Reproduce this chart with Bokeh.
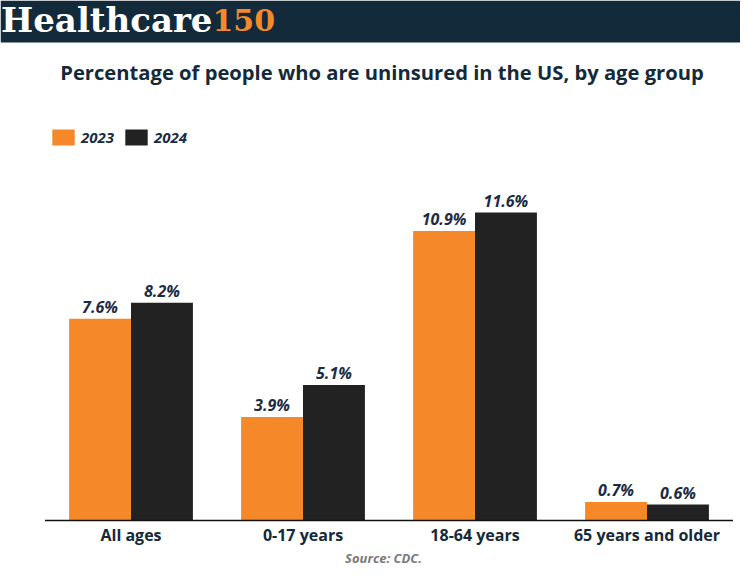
from bokeh.plotting import figure
from bokeh.models import (ColumnDataSource, Range1d, BoxAnnotation,
                          Label, Legend, LegendItem)
from bokeh.core.properties import value
from bokeh.embed import file_html
from bokeh.resources import INLINE

# ---- data ----
categories = ["All ages", "0-17 years", "18-64 years", "65 years and older"]
years = ["2023", "2024"]
values_2023 = [7.6, 3.9, 10.9, 0.7]
values_2024 = [8.2, 5.1, 11.6, 0.6]
title_text = "Percentage of people who are uninsured in the US, by age group"
source_text = "Source: CDC."

# ---- styling / layout ----
W, H = 740, 565
ZERO_PX = 520               # pixel row of the zero line (from top)
PX_PER_UNIT = 26.55         # vertical pixels per percentage point
PX_PER_GROUP = 172.0
FIRST_CENTER = 130.5        # px from left to first group center
ORANGE = "#F5892A"
BLACK = "#222222"
NAVY = "#132A3A"
TEXT = "#1B2B44"
FONT = "Open Sans"

y_top = ZERO_PX / PX_PER_UNIT
y_bottom = -(H - ZERO_PX) / PX_PER_UNIT
x_start = -FIRST_CENTER / PX_PER_GROUP
x_end = x_start + W / PX_PER_GROUP


def ydata(py):
    """pixel (from figure top) -> data y"""
    return (ZERO_PX - py) / PX_PER_UNIT


def xdata(px):
    return x_start + px / PX_PER_GROUP


p = figure(width=W, height=H, output_backend="svg", toolbar_location=None,
           x_range=Range1d(x_start, x_end), y_range=Range1d(y_bottom, y_top),
           x_axis_location=None, y_axis_location=None,
           min_border=0, outline_line_color=None)
p.background_fill_color = "white"
p.border_fill_color = "white"
p.grid.visible = False

# header band
p.add_layout(BoxAnnotation(bottom=ydata(42), fill_color=NAVY, fill_alpha=1,
                           line_color=None, level="underlay"))
p.add_layout(Label(x=xdata(212), y=ydata(19), text="Healthcare", text_align="right",
                   text_baseline="alphabetic", text_font="DejaVu Serif",
                   text_font_style="bold", text_font_size="34px", text_color="white"))
p.add_layout(Label(x=xdata(212), y=ydata(19), text="150", text_align="left",
                   text_baseline="alphabetic", text_font="DejaVu Serif",
                   text_font_style="bold", text_font_size="30px", text_color=ORANGE))

# title
p.add_layout(Label(x=xdata(381.5), y=ydata(71.5), text=title_text, text_align="center",
                   text_baseline="alphabetic", text_font=FONT, text_font_style="bold",
                   text_font_size="20.2px", text_color=NAVY))

# source
p.add_layout(Label(x=xdata(383), y=ydata(557), text=source_text, text_align="center",
                   text_baseline="alphabetic", text_font=FONT,
                   text_font_style="bold italic", text_font_size="13px",
                   text_color="#7A7A7A"))

# bars
idx = list(range(len(categories)))
off = 0.18
bw = 0.36
src23 = ColumnDataSource(dict(x=[i - off for i in idx], top=values_2023,
                              lab=[f"{v:.1f}%" for v in values_2023]))
src24 = ColumnDataSource(dict(x=[i + off for i in idx], top=values_2024,
                              lab=[f"{v:.1f}%" for v in values_2024]))
r23 = p.vbar(x="x", top="top", bottom=0, width=bw, source=src23,
             fill_color=ORANGE, line_color=None)
r24 = p.vbar(x="x", top="top", bottom=0, width=bw, source=src24,
             fill_color=BLACK, line_color=None)
for s in (src23, src24):
    p.text(x="x", y="top", text="lab", source=s, text_align="center",
           text_baseline="alphabetic", y_offset=-12, text_font=value(FONT),
           text_font_style="bold italic", text_font_size="16px", text_color=TEXT)

# zero line spanning the categories
p.segment(x0=[-0.5], y0=[0], x1=[len(categories) - 0.5], y1=[0],
          line_color="#111111", line_width=1.5)

# category labels under the zero line
cat_src = ColumnDataSource(dict(x=idx, y=[0] * len(idx), lab=categories))
p.text(x="x", y="y", text="lab", source=cat_src, text_align="center",
       text_baseline="alphabetic", y_offset=14, text_font=value(FONT),
       text_font_style="bold", text_font_size="16px", text_color=NAVY)

# legend
legend = Legend(items=[LegendItem(label=years[0], renderers=[r23]),
                       LegendItem(label=years[1], renderers=[r24])],
                orientation="horizontal", location=(49, H - 147),
                glyph_width=28, glyph_height=20, label_height=20,
                label_standoff=4, spacing=8, padding=0, margin=0,
                border_line_color=None, background_fill_alpha=0,
                label_text_font=FONT, label_text_font_style="bold italic",
                label_text_font_size="15px", label_text_color=TEXT)
p.add_layout(legend, "center")

open("out.html", "w").write(file_html(p, INLINE))
